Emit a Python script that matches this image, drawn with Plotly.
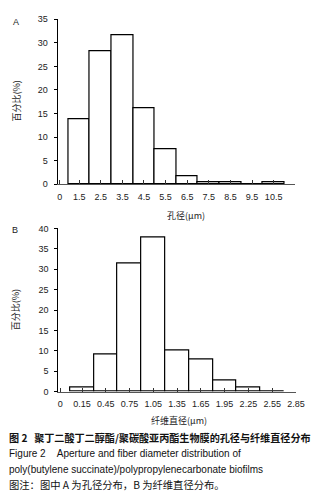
import plotly.graph_objects as go

# ---- data ----
a_labels = ["1.5", "2.5", "3.5", "4.5", "5.5", "6.5", "7.5", "8.5", "9.5", "10.5"]
a_values = [13.7, 28.2, 31.7, 16.1, 7.4, 1.8, 0.4, 0.4, 0, 0.4]
b_labels = ["0.15", "0.45", "0.75", "1.05", "1.35", "1.65", "1.95", "2.25", "2.55", "2.85"]
b_values = [1.0, 9.0, 31.4, 37.7, 10.0, 8.0, 2.8, 1.0, 0]

W, H = 335, 499

def px(x):
    return x / W

def py(y):
    return 1 - y / H

a_pos = list(range(1, len(a_labels) + 1))
b_pos = list(range(1, len(b_values) + 1))

fig = go.Figure()
bar_style = dict(marker=dict(color="white", line=dict(color="black", width=1.2)),
                 width=1, showlegend=False, hoverinfo="skip")
fig.add_trace(go.Bar(x=a_pos, y=a_values, xaxis="x", yaxis="y", **bar_style))
fig.add_trace(go.Bar(x=b_pos, y=b_values, xaxis="x2", yaxis="y2", **bar_style))

tickfont = dict(family="Liberation Sans, Arial", size=9, color="#222")

common_x = dict(showline=True, linecolor="#555", linewidth=1, ticks="inside",
                ticklen=4, tickcolor="#333", tickwidth=1, showgrid=False,
                zeroline=False, tickfont=tickfont, tickmode="array",
                ticklabelstandoff=4, fixedrange=True)
common_y = dict(showline=True, linecolor="black", linewidth=1, ticks="outside",
                ticklen=3, tickcolor="black", tickwidth=1, showgrid=False,
                zeroline=False, tickfont=tickfont, dtick=5, tick0=0,
                ticklabelstandoff=4, fixedrange=True)

fig.update_layout(
    width=W, height=H,
    margin=dict(l=0, r=0, t=0, b=0),
    paper_bgcolor="white", plot_bgcolor="white",
    bargap=0,
    xaxis=dict(domain=[px(58.3), px(303.3)], range=[0, 11], anchor="y",
               tickvals=[0.1] + a_pos + [11], ticktext=["0"] + a_labels + [""],
               **common_x),
    yaxis=dict(domain=[py(183.0), py(14.5)], range=[0, 35], anchor="x", **common_y),
    xaxis2=dict(domain=[px(59), px(304)], range=[0, 10], anchor="y2",
                tickvals=[0.08] + list(range(1, len(b_labels) + 1)),
                ticktext=["0"] + b_labels, **common_x),
    yaxis2=dict(domain=[py(394.5), py(228)], range=[0, 40], anchor="x2", **common_y),
)

cjk = "Noto Sans CJK SC"
ann = []
def add(text, x, y, size, family, xanchor="center", angle=0, color="#222"):
    ann.append(dict(text=text, x=px(x), y=py(y), xref="paper", yref="paper",
                    showarrow=False, xanchor=xanchor, yanchor="middle",
                    textangle=angle, font=dict(family=family, size=size, color=color)))

add("A", 15, 17, 9, "Liberation Sans")
add("B", 14, 230, 9, "Liberation Sans")
add("百分比(%)", 15, 98, 9, cjk, angle=-90)
add("百分比(%)", 15, 311, 9, cjk, angle=-90)
add("孔径(μm)", 191, 215, 9, cjk)
add("纤维直径(μm)", 183, 424, 9, cjk)
add("<b>图 2</b>\u00a0\u00a0\u00a0<b>聚丁二酸丁二醇酯/聚碳酸亚丙酯生物膜的孔径与纤维直径分布</b>",
    6, 441, 10.1, cjk, xanchor="left", color="#111")
add("Figure 2\u00a0\u00a0\u00a0\u00a0Aperture and fiber diameter distribution of",
    6, 458, 10, "Liberation Sans", xanchor="left", color="#111")
add("poly(butylene succinate)/polypropylenecarbonate biofilms",
    6, 474, 10, "Liberation Sans", xanchor="left", color="#111")
add("图注：图中 A 为孔径分布，B 为纤维直径分布。",
    6, 489, 10.3, cjk, xanchor="left", color="#111")

fig.update_layout(annotations=ann)
fig.write_html("out.html", config={"displayModeBar": False},
               post_script="document.body.style.margin='0';")
